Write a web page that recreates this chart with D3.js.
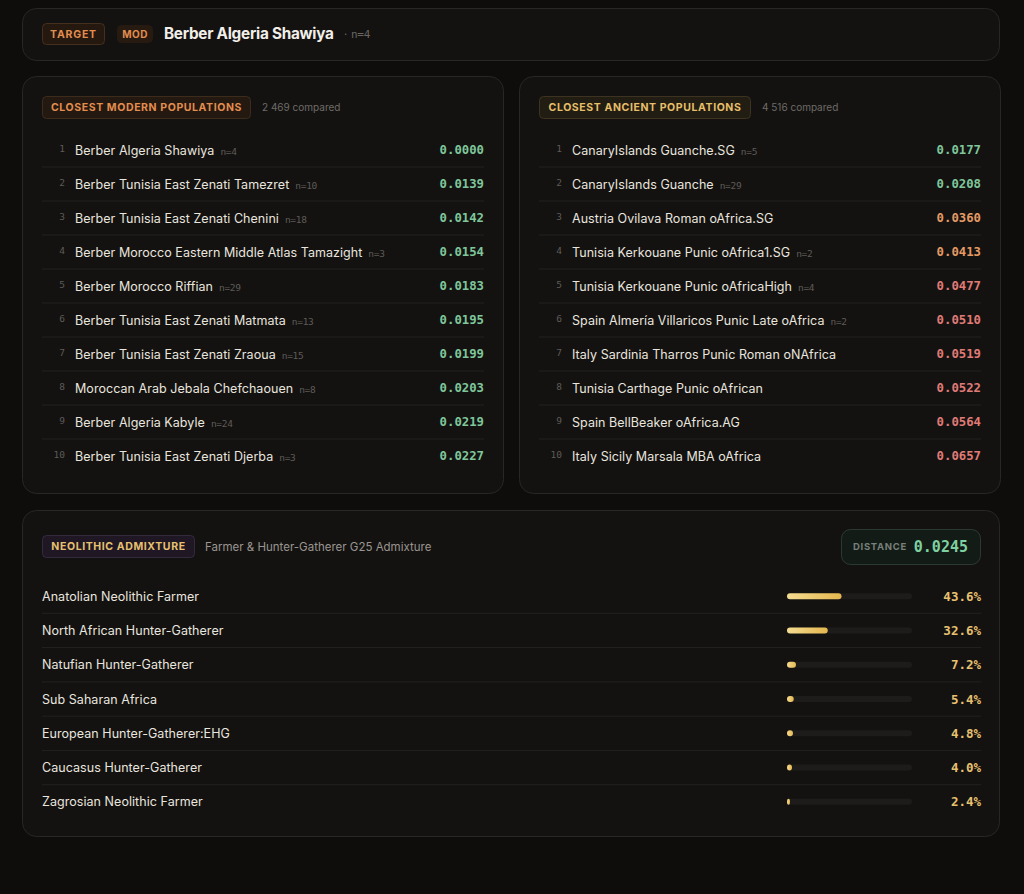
<!DOCTYPE html>
<html><head><meta charset="utf-8">
<script src="https://cdn.jsdelivr.net/npm/d3@7/dist/d3.min.js"></script>
<style>
html,body{margin:0;padding:0;background:#0e0d0c;}
svg{display:block;}
</style></head>
<body><div id="chart"></div>
<script>
const targetName = "Berber Algeria Shawiya";
const targetN = 4;

const modernNames = ["Berber Algeria Shawiya","Berber Tunisia East Zenati Tamezret","Berber Tunisia East Zenati Chenini","Berber Morocco Eastern Middle Atlas Tamazight","Berber Morocco Riffian","Berber Tunisia East Zenati Matmata","Berber Tunisia East Zenati Zraoua","Moroccan Arab Jebala Chefchaouen","Berber Algeria Kabyle","Berber Tunisia East Zenati Djerba"];
const modernN = [4,10,18,3,29,13,15,8,24,3];
const modernDist = [0.0000,0.0139,0.0142,0.0154,0.0183,0.0195,0.0199,0.0203,0.0219,0.0227];

const ancientNames = ["CanaryIslands Guanche.SG","CanaryIslands Guanche","Austria Ovilava Roman oAfrica.SG","Tunisia Kerkouane Punic oAfrica1.SG","Tunisia Kerkouane Punic oAfricaHigh","Spain Almería Villaricos Punic Late oAfrica","Italy Sardinia Tharros Punic Roman oNAfrica","Tunisia Carthage Punic oAfrican","Spain BellBeaker oAfrica.AG","Italy Sicily Marsala MBA oAfrica"];
const ancientN = [5,29,null,2,4,2,null,null,null,null];
const ancientDist = [0.0177,0.0208,0.0360,0.0413,0.0477,0.0510,0.0519,0.0522,0.0564,0.0657];

const admixLabels = ["Anatolian Neolithic Farmer","North African Hunter-Gatherer","Natufian Hunter-Gatherer","Sub Saharan Africa","European Hunter-Gatherer:EHG","Caucasus Hunter-Gatherer","Zagrosian Neolithic Farmer"];
const admixValues = [43.6,32.6,7.2,5.4,4.8,4.0,2.4];
const admixDistance = 0.0245;

const modernCompared = "2 469 compared";
const ancientCompared = "4 516 compared";

const W = 1024, H = 894;
const SANS = "Inter, 'Noto Sans', sans-serif";
const MONO = "'DejaVu Sans Mono', 'Liberation Mono', monospace";

const svg = d3.select("#chart").append("svg").attr("width", W).attr("height", H);
const defs = svg.append("defs");
const grad = defs.append("linearGradient").attr("id","barGrad").attr("x1","0").attr("x2","1");
grad.append("stop").attr("offset","0%").attr("stop-color","#f4dc92");
grad.append("stop").attr("offset","100%").attr("stop-color","#e5b74e");

svg.append("rect").attr("width",W).attr("height",H).attr("fill","#0e0d0c");

function card(x,y,w,h){
  svg.append("rect").attr("x",x+0.5).attr("y",y+0.5).attr("width",w-1).attr("height",h-1)
    .attr("rx",14).attr("fill","#131211").attr("stroke","#292725").attr("stroke-width",1);
}
function badge(x,y,w,h,text,opts){
  svg.append("rect").attr("x",x+0.5).attr("y",y+0.5).attr("width",w-1).attr("height",h-1).attr("rx",4)
    .attr("fill",opts.bg).attr("stroke",opts.stroke);
  svg.append("text").attr("x",x+w/2).attr("y",y+h/2).attr("dy","0.36em").attr("text-anchor","middle")
    .attr("font-family",SANS).attr("font-weight",700).attr("font-size",opts.size||10.5)
    .attr("letter-spacing",opts.ls||0.6).attr("fill",opts.color).text(text);
}

// Top card
card(22,8,978,53);
badge(42,23,63,22,"TARGET",{bg:"#24180f",stroke:"#45301f",color:"#e38d4f",size:10.5,ls:0.8});
badge(117,25,36,18,"MOD",{bg:"#261a11",stroke:"#261a11",color:"#e38d4f",size:10,ls:0.5});
svg.append("text").attr("x",164).attr("y",39).attr("font-family",SANS).attr("font-weight",700)
  .attr("font-size",15.3).attr("fill","#f2efe9").attr("letter-spacing",-0.25).text(targetName);
const sub = svg.append("text").attr("x",344).attr("y",38).attr("fill","#6a6661");
sub.append("tspan").attr("font-family",SANS).attr("font-size",11).text("·");
sub.append("tspan").attr("x",351).attr("font-family",MONO).attr("font-size",11).attr("letter-spacing",-0.3).text("n=" + targetN);

function distColor(v){
  if (v < 0.03) return "#7fc79b";
  if (v < 0.045) return "#e39a64";
  return "#e07b76";
}

function listPanel(px, title, compared, badgeW, badgeOpts, names, ns, dists){
  card(px,76,482,418);
  badge(px+20,96,badgeW,23,title,badgeOpts);
  svg.append("text").attr("x",px+20+badgeW+11).attr("y",107.5).attr("dy","0.36em")
    .attr("font-family",SANS).attr("font-size",10).attr("fill","#6f6b66").text(compared);

  const y = d3.scaleBand().domain(d3.range(names.length)).range([133,473]);
  const left = px+20, right = px+462;
  const g = svg.append("g");
  const rows = g.selectAll("g.row").data(names.map((n,i)=>({name:n,n:ns[i],d:dists[i],i})))
    .join("g").attr("transform",d=>`translate(0,${y(d.i)+y.bandwidth()/2})`);
  rows.filter(d=>d.i < names.length-1).append("line")
    .attr("x1",left).attr("x2",right).attr("y1",y.bandwidth()/2).attr("y2",y.bandwidth()/2)
    .attr("stroke","#232120").attr("stroke-width",1);
  rows.append("text").attr("x",px+43).attr("y",-1).attr("dy","0.36em").attr("text-anchor","end")
    .attr("font-family",MONO).attr("font-size",9.5).attr("fill","#5f5b57").text(d=>d.i+1);
  const nameT = rows.append("text").attr("x",px+53).attr("y",0).attr("dy","0.36em")
    .attr("font-family",SANS).attr("font-size",12.5).attr("letter-spacing",0.05).attr("fill","#e9e5df");
  nameT.append("tspan").text(d=>d.name);
  nameT.filter(d=>d.n!=null).append("tspan").attr("dx",6).attr("font-family",MONO)
    .attr("font-size",9.5).attr("letter-spacing",-0.3).attr("fill","#5f5b57").text(d=>"n="+d.n);
  rows.append("text").attr("x",right).attr("y",0).attr("dy","0.36em").attr("text-anchor","end")
    .attr("font-family",MONO).attr("font-weight",700).attr("font-size",12.3)
    .attr("fill",d=>distColor(d.d)).text(d=>d.d.toFixed(4));
}

listPanel(22,"CLOSEST MODERN POPULATIONS",modernCompared,209,
  {bg:"#231910",stroke:"#3d2c1c",color:"#e38d4f",size:10.5,ls:0.6},modernNames,modernN,modernDist);
listPanel(519,"CLOSEST ANCIENT POPULATIONS",ancientCompared,212,
  {bg:"#221d12",stroke:"#3d3320",color:"#e6bf6a",size:10.5,ls:0.6},ancientNames,ancientN,ancientDist);

// Admixture panel
card(22,510,978,327);
badge(42,535,153,23,"NEOLITHIC ADMIXTURE",{bg:"#1f1824",stroke:"#342a3e",color:"#e8c170",size:10.5,ls:0.6});
svg.append("text").attr("x",205).attr("y",546.5).attr("dy","0.36em").attr("font-family",SANS)
  .attr("font-size",11.5).attr("fill","#9a958f").text("Farmer & Hunter-Gatherer G25 Admixture");

svg.append("rect").attr("x",841.5).attr("y",529.5).attr("width",139).attr("height",35).attr("rx",9)
  .attr("fill","#131b16").attr("stroke","#2b3a31");
svg.append("text").attr("x",853).attr("y",547).attr("dy","0.36em").attr("font-family",SANS)
  .attr("font-weight",700).attr("font-size",9.5).attr("letter-spacing",0.7).attr("fill","#77807a").text("DISTANCE");
svg.append("text").attr("x",968).attr("y",547).attr("dy","0.36em").attr("text-anchor","end")
  .attr("font-family",MONO).attr("font-weight",700).attr("font-size",15).attr("fill","#7fd0a0")
  .text(admixDistance.toFixed(4));

const ay = d3.scaleBand().domain(d3.range(admixLabels.length)).range([579,819]);
const ax = d3.scaleLinear().domain([0,100]).range([787,912]);
const arows = svg.append("g").selectAll("g").data(admixLabels.map((l,i)=>({l,v:admixValues[i],i})))
  .join("g").attr("transform",d=>`translate(0,${ay(d.i)+ay.bandwidth()/2})`);
arows.filter(d=>d.i<admixLabels.length-1).append("line").attr("x1",42).attr("x2",981)
  .attr("y1",ay.bandwidth()/2).attr("y2",ay.bandwidth()/2).attr("stroke","#232120");
arows.append("text").attr("x",42).attr("y",0).attr("dy","0.36em").attr("font-family",SANS)
  .attr("font-size",12.5).attr("letter-spacing",0.05).attr("fill","#e9e5df").text(d=>d.l);
arows.append("rect").attr("x",ax(0)).attr("y",-3).attr("width",ax(100)-ax(0)).attr("height",6)
  .attr("rx",3).attr("fill","#1d1c1b");
arows.append("rect").attr("x",ax(0)).attr("y",-3).attr("width",d=>Math.max(ax(d.v)-ax(0),3)).attr("height",6)
  .attr("rx",3).attr("fill","url(#barGrad)");
arows.append("text").attr("x",981).attr("y",0).attr("dy","0.36em").attr("text-anchor","end")
  .attr("font-family",MONO).attr("font-weight",700).attr("font-size",12.5).attr("fill","#e8c170")
  .text(d=>d.v.toFixed(1)+"%");
</script>
</body></html>
